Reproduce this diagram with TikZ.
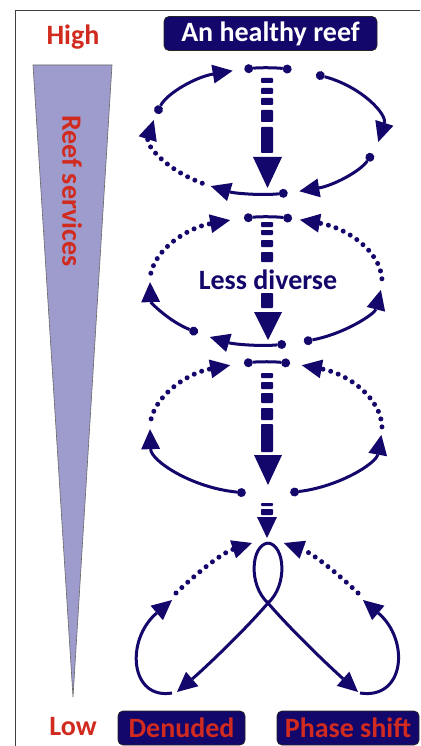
\documentclass[tikz,border=0pt]{standalone}
\usepackage{fontspec}
\setmainfont{Carlito}
\usetikzlibrary{arrows.meta}
\definecolor{navy}{HTML}{13076B}
\definecolor{reefred}{HTML}{D12A1E}
\definecolor{lav}{HTML}{9E9CCC}
\newcommand{\ellseg}[7]{\draw[#1] ({#2+#4*cos(#6)},{#3-#5*sin(#6)}) arc[start angle=#6,end angle=#7,x radius=#4pt,y radius=#5pt];}
\newcommand{\blk}[3]{\fill[navy,rounded corners=0.8pt] (#1-6,#2) rectangle (#1+6,#3);}
\tikzset{
  myhead/.tip={Triangle[length=20pt,width=19pt,line width=0pt]},
  mydot/.tip={Circle[length=9pt,line width=0pt]},
  big/.style={font=\bfseries\fontsize{28}{30}\selectfont},
  box/.style={big, fill=navy, draw=black!85, line width=0.8pt, rounded corners=5pt, minimum height=34pt, inner sep=0pt},
  seg/.style={draw=navy, line width=3pt, mydot-myhead},
  bar/.style={draw=navy, line width=3pt, mydot-mydot},
  dotline/.style={draw=navy, line width=5pt, line cap=round, dash pattern=on 0pt off 8pt, -myhead},
  plainarr/.style={draw=navy, line width=3pt, -myhead}
}
\begin{document}
\begin{tikzpicture}[x=1pt,y=-1pt]
\useasboundingbox (0,0) rectangle (420,746);
\fill[white] (0,0) rectangle (420,746);
% frame
\draw[line width=0.9pt, black!75] (15,746) -- (15,10) -- (420,10);
% services wedge
\filldraw[fill=lav, draw=black!60, line width=0.6pt] (33,65) -- (112,65) -- (73,697) -- cycle;
\node[big, text=reefred] (high) at (73,37) {High};
\node[big, text=reefred] (low) at (73,727) {Low};
\node[big, text=reefred, rotate=-90] (services) at (72,191) {Reef services};
% boxes
\node[box, text=white, minimum width=213pt] (healthy) at (270.5,33.5) {An healthy reef};
\node[box, text=reefred, minimum width=127pt] (denuded) at (181.5,728) {Denuded};
\node[box, text=reefred, minimum width=142pt] (phase) at (348,728) {Phase shift};
\node[big, text=navy] (less) at (268,280) {Less diverse};
% cycle 1
\ellseg{bar}{266}{131}{114}{63}{101}{77}
\ellseg{seg}{266}{131}{114}{63}{64}{-10}
\ellseg{seg}{266}{131}{114}{63}{-21}{-73}
\ellseg{seg}{266}{131}{114}{63}{-79}{-119}
\ellseg{dotline}{266}{131}{114}{63}{-124}{-190}
\ellseg{seg}{266}{131}{114}{63}{164}{107}
% cycle 2
\ellseg{bar}{266}{281}{116}{64}{101}{77}
\ellseg{dotline}{266}{281}{116}{64}{173}{108}
\ellseg{seg}{266}{281}{116}{64}{234}{181}
\ellseg{seg}{266}{281}{116}{64}{280}{241}
\ellseg{seg}{266}{281}{116}{64}{289}{352}
\ellseg{dotline}{266}{281}{116}{64}{2}{73}
% cycle 3
\ellseg{bar}{266}{428}{116}{66}{101}{78}
\ellseg{dotline}{266}{428}{116}{66}{172}{108}
\ellseg{seg}{266}{428}{116}{66}{260}{181}
\ellseg{seg}{266}{428}{116}{66}{282}{354}
\ellseg{dotline}{266}{428}{116}{66}{1}{72}
% central arrows
\blk{267}{78}{83}\blk{267}{88}{94}\blk{267}{98}{105}\blk{267}{110}{122}\blk{267}{127}{153}
\fill[navy] (253,157) -- (282,157) -- (267.5,188) -- cycle;
\blk{267}{222}{227}\blk{267}{230}{235}\blk{267}{240}{247}\blk{267}{252}{262}\blk{267}{293}{308}
\fill[navy] (254,312) -- (282,312) -- (268,340) -- cycle;
\blk{267}{373}{378}\blk{267}{382}{389}\blk{267}{393}{403}\blk{267}{408}{420}\blk{267}{424}{452}
\fill[navy] (254,455) -- (282,455) -- (268,485) -- cycle;
\blk{267}{503}{506}\blk{267}{509}{515}
\fill[navy] (257,517) -- (277,517) -- (267,538) -- cycle;
% loop
\coordinate (top) at (268,543);
\coordinate (cross) at (268,603);
\draw[plainarr] (top) .. controls (285,545) and (288,585) .. (cross) .. controls (245,630) and (205,668) .. (177,692);
\draw[plainarr] (top) .. controls (251,545) and (248,585) .. (cross) .. controls (291,630) and (331,668) .. (358,692);
% lower arcs
\coordinate (dl) at (172,693);
\coordinate (dr) at (360,693);
\draw[plainarr] (dl) .. controls (130,700) and (125,640) .. (172,600);
\draw[dotline] (176,593) .. controls (198,572) and (222,553) .. (252,543);
\draw[plainarr] (dr) .. controls (405,700) and (410,640) .. (363,600);
\draw[dotline] (358,593) .. controls (336,572) and (312,553) .. (284,543);
\end{tikzpicture}
\end{document}
